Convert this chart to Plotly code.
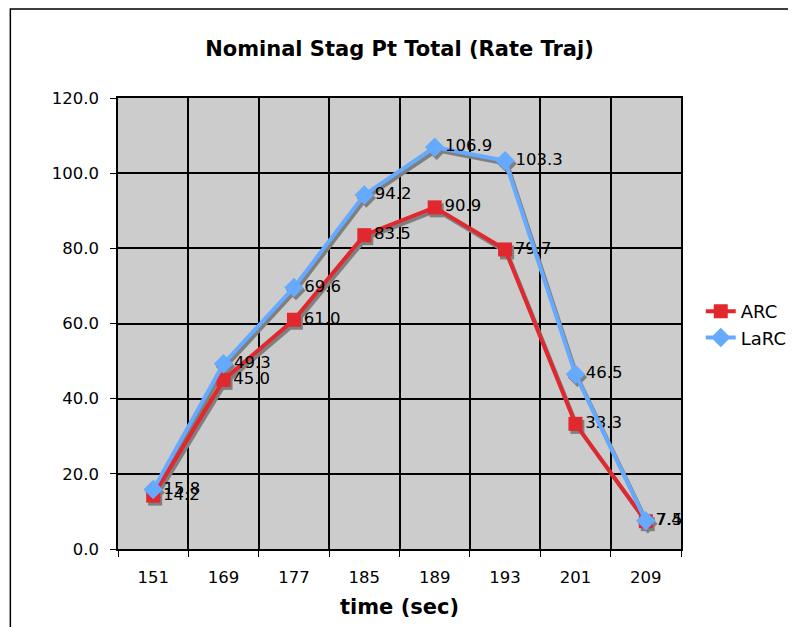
import plotly.graph_objects as go

categories = ["151", "169", "177", "185", "189", "193", "201", "209"]
arc = [14.2, 45.0, 61.0, 83.5, 90.9, 79.7, 33.3, 7.4]
larc = [15.8, 49.3, 69.6, 94.2, 106.9, 103.3, 46.5, 7.5]
y_ticks = [0, 20, 40, 60, 80, 100, 120]

FONT = "DejaVu Sans"
RED = "#E0282E"
BLUE = "#66AAFF"
SHADOW = "#7F7F7F"

W, H = 796, 627
PL, PT = 116, 97        # target rendered plot-area left/top
OFF_X, OFF_Y = 6, 7     # page offset observed in rendering
pw, ph = 570, 451
L, T = PL - OFF_X, PT - OFF_Y
R = W - L - pw
B = H - T - ph
nx = len(categories)
dx = 2 * nx / pw
dy = 3 * 120 / ph

fig = go.Figure()

# shadows (base subplot, shifted ranges)
for vals, sym in [(arc, "square"), (larc, "diamond")]:
    fig.add_trace(go.Scatter(
        x=categories, y=vals, mode="lines+markers", xaxis="x", yaxis="y",
        line=dict(color=SHADOW, width=4), showlegend=False, hoverinfo="skip",
        marker=dict(symbol=sym, size=14 if sym == "square" else 15, color=SHADOW)))

fig.add_trace(go.Scatter(
    x=categories, y=arc, name="ARC", mode="lines+markers+text", xaxis="x2", yaxis="y2",
    line=dict(color=RED, width=4),
    marker=dict(symbol="square", size=14, color=RED),
    text=[f"{v:.1f}" for v in arc], textposition="middle right",
    textfont=dict(family=FONT, size=16.5, color="black")))
fig.add_trace(go.Scatter(
    x=categories, y=larc, name="LaRC", mode="lines+markers+text", xaxis="x2", yaxis="y2",
    line=dict(color=BLUE, width=4),
    marker=dict(symbol="diamond", size=15, color=BLUE),
    text=[f"{v:.1f}" for v in larc], textposition="middle right",
    textfont=dict(family=FONT, size=16.5, color="black")))

fig.update_layout(
    width=W, height=H,
    margin=dict(l=L, r=R, t=T, b=B),
    paper_bgcolor="white", plot_bgcolor="#CCCCCC",
    font=dict(family=FONT, size=16, color="black"),
    title=dict(text="<b>Nominal Stag Pt Total (Rate Traj)</b>", x=0.5, xref="paper",
               y=1 - (48 - OFF_Y) / H, yanchor="middle", font=dict(family=FONT, size=21)),
    xaxis=dict(type="category", range=[-0.5 - dx, nx - 0.5 - dx], visible=False),
    yaxis=dict(range=[dy, 120 + dy], visible=False),
    xaxis2=dict(type="category", overlaying="x", side="bottom", range=[-0.5, nx - 0.5],
                tickson="boundaries",
                showgrid=True, gridcolor="black", gridwidth=1.5, automargin=False,
                showline=True, linecolor="black", linewidth=1.5, mirror=True,
                ticks="outside", ticklen=6, tickcolor="black", ticklabelstandoff=12,
                title=dict(text="<b>time (sec)</b>", font=dict(family=FONT, size=21), standoff=14),
                tickfont=dict(size=16.5)),
    yaxis2=dict(overlaying="y", side="left", range=[0, 120], tickvals=y_ticks,
                ticktext=[f"{v:.1f}" for v in y_ticks],
                showgrid=True, gridcolor="black", gridwidth=1.5, automargin=False,
                showline=True, linecolor="black", linewidth=1.5, mirror=True,
                ticks="outside", ticklen=6, tickcolor="black", zeroline=False,
                ticklabelstandoff=8, tickfont=dict(size=16.5)),
    legend=dict(x=(706 - PL) / pw, xanchor="left", y=(PT + ph - 292) / ph, yanchor="top",
                font=dict(family=FONT, size=18), bgcolor="rgba(0,0,0,0)",
                tracegroupgap=2),
    shapes=[dict(type="rect", xref="paper", yref="paper",
                 x0=(7 - PL) / pw, x1=(W + 20 - PL) / pw,
                 y0=-(H - PT - ph + 20) / ph, y1=(PT + ph - 8) / ph,
                 line=dict(color="black", width=1.5), layer="below")],
)

fig.write_html("out.html")
